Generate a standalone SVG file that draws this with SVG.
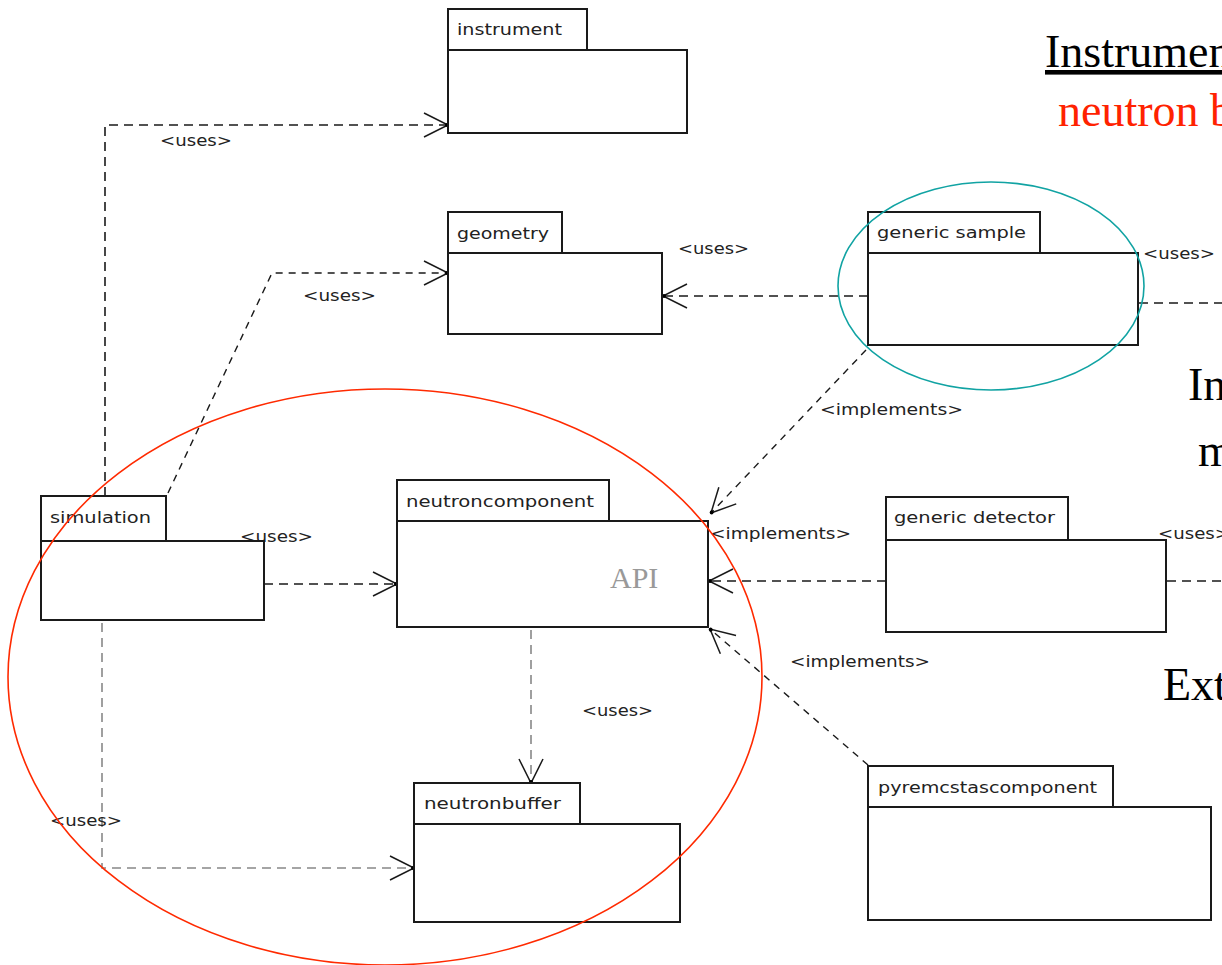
<svg xmlns="http://www.w3.org/2000/svg" width="1222" height="965" viewBox="0 0 1222 965">
<defs>
<style>
.box{fill:#fff;stroke:#1a1a1a;stroke-width:2}
.nl{font-family:"DejaVu Sans",sans-serif;font-size:16px;fill:#222}
.el{font-family:"DejaVu Sans",sans-serif;font-size:15px;fill:#222}
.dep{fill:none;stroke:#1a1a1a;stroke-width:1.6;stroke-dasharray:9,6}
.depg{fill:none;stroke:#888;stroke-width:1.6;stroke-dasharray:9,6}
.impl{fill:none;stroke:#1a1a1a;stroke-width:1.4;stroke-dasharray:7,6}
.big{font-family:"Liberation Serif",serif;font-size:46px}
</style>
<marker id="oa" markerUnits="userSpaceOnUse" markerWidth="28" markerHeight="28" viewBox="0 0 28 28" refX="26" refY="14" orient="auto">
<path d="M2,2 L26,14 L2,26" fill="none" stroke="#1a1a1a" stroke-width="1.5"/>
<circle cx="25" cy="14" r="2" fill="#000"/>
</marker>
</defs>
<rect width="1222" height="965" fill="#fff"/>

<g id="connectors">
<polyline class="dep" points="105,496 105,125 448,125" marker-end="url(#oa)"/>
<polyline class="impl" points="168,493 272,273 448,273" marker-end="url(#oa)"/>
<line class="dep" x1="868" y1="296" x2="663" y2="296" marker-end="url(#oa)"/>
<line class="dep" x1="1139" y1="303" x2="1222" y2="303"/>
<line class="impl" x1="866" y1="350" x2="711" y2="513" marker-end="url(#oa)"/>
<line class="dep" x1="886" y1="581" x2="709" y2="581" marker-end="url(#oa)"/>
<line class="dep" x1="1167" y1="581" x2="1222" y2="581"/>
<line class="impl" x1="868" y1="765" x2="710" y2="629" marker-end="url(#oa)"/>
<line class="dep" x1="264" y1="584" x2="397" y2="584" marker-end="url(#oa)"/>
<line class="depg" x1="531" y1="630" x2="531" y2="783" marker-end="url(#oa)"/>
<polyline class="depg" points="102,623 102,868 414,868" marker-end="url(#oa)"/>
<text class="el" x="160" y="146" textLength="72" lengthAdjust="spacingAndGlyphs">&lt;uses&gt;</text>
<text class="el" x="303" y="301" textLength="73" lengthAdjust="spacingAndGlyphs">&lt;uses&gt;</text>
<text class="el" x="678" y="254" textLength="71" lengthAdjust="spacingAndGlyphs">&lt;uses&gt;</text>
<text class="el" x="1143" y="259" textLength="72" lengthAdjust="spacingAndGlyphs">&lt;uses&gt;</text>
<text class="el" x="820" y="415" textLength="143" lengthAdjust="spacingAndGlyphs">&lt;implements&gt;</text>
<text class="el" x="240" y="542" textLength="73" lengthAdjust="spacingAndGlyphs">&lt;uses&gt;</text>
<text class="el" x="710" y="539" textLength="141" lengthAdjust="spacingAndGlyphs">&lt;implements&gt;</text>
<text class="el" x="1158" y="539" textLength="72" lengthAdjust="spacingAndGlyphs">&lt;uses&gt;</text>
<text class="el" x="790" y="667" textLength="140" lengthAdjust="spacingAndGlyphs">&lt;implements&gt;</text>
<text class="el" x="582" y="716" textLength="71" lengthAdjust="spacingAndGlyphs">&lt;uses&gt;</text>
<text class="el" x="50" y="826" textLength="72" lengthAdjust="spacingAndGlyphs">&lt;uses&gt;</text>
</g>

<g id="instrument">
<rect class="box" x="448" y="9" width="139" height="41"/>
<rect class="box" x="448" y="50" width="239" height="83"/>
<text class="nl" x="457" y="35" textLength="105" lengthAdjust="spacingAndGlyphs">instrument</text>
</g>
<g id="geometry">
<rect class="box" x="448" y="212" width="114" height="41"/>
<rect class="box" x="448" y="253" width="214" height="81"/>
<text class="nl" x="457" y="239" textLength="92" lengthAdjust="spacingAndGlyphs">geometry</text>
</g>
<g id="generic-sample">
<rect class="box" x="868" y="212" width="172" height="41"/>
<rect class="box" x="868" y="253" width="270" height="92"/>
<text class="nl" x="877" y="238" textLength="149" lengthAdjust="spacingAndGlyphs">generic sample</text>
</g>
<g id="simulation">
<rect class="box" x="41" y="496" width="125" height="45"/>
<rect class="box" x="41" y="541" width="223" height="79"/>
<text class="nl" x="50" y="523" textLength="101" lengthAdjust="spacingAndGlyphs">simulation</text>
</g>
<g id="neutroncomponent">
<rect class="box" x="397" y="480" width="212" height="41"/>
<rect class="box" x="397" y="521" width="311" height="106"/>
<text class="nl" x="406" y="507" textLength="188" lengthAdjust="spacingAndGlyphs">neutroncomponent</text>
<text x="610" y="588" font-family="Liberation Serif,serif" font-size="30" fill="#999">API</text>
</g>
<g id="generic-detector">
<rect class="box" x="886" y="497" width="182" height="43"/>
<rect class="box" x="886" y="540" width="280" height="92"/>
<text class="nl" x="894" y="523" textLength="161" lengthAdjust="spacingAndGlyphs">generic detector</text>
</g>
<g id="neutronbuffer">
<rect class="box" x="414" y="783" width="166" height="41"/>
<rect class="box" x="414" y="824" width="266" height="98"/>
<text class="nl" x="424" y="809" textLength="137" lengthAdjust="spacingAndGlyphs">neutronbuffer</text>
</g>
<g id="pyremcstascomponent">
<rect class="box" x="868" y="766" width="245" height="41"/>
<rect class="box" x="868" y="807" width="343" height="113"/>
<text class="nl" x="878" y="793" textLength="219" lengthAdjust="spacingAndGlyphs">pyremcstascomponent</text>
</g>

<g id="highlights" fill="none">
<ellipse cx="385" cy="677" rx="377" ry="288" stroke="#ff2a00" stroke-width="1.6"/>
<ellipse cx="991" cy="286" rx="153" ry="104" stroke="#11a3a3" stroke-width="1.6"/>
</g>

<g id="side-text">
<text class="big" x="1045" y="67" fill="#000" text-decoration="underline">Instrumen</text>
<text class="big" x="1058" y="126" fill="#ff2200">neutron b</text>
<text class="big" x="1188" y="400" fill="#000">In</text>
<text class="big" x="1198" y="466" fill="#000">m</text>
<text class="big" x="1163" y="700" fill="#000">Ext</text>
</g>
</svg>
